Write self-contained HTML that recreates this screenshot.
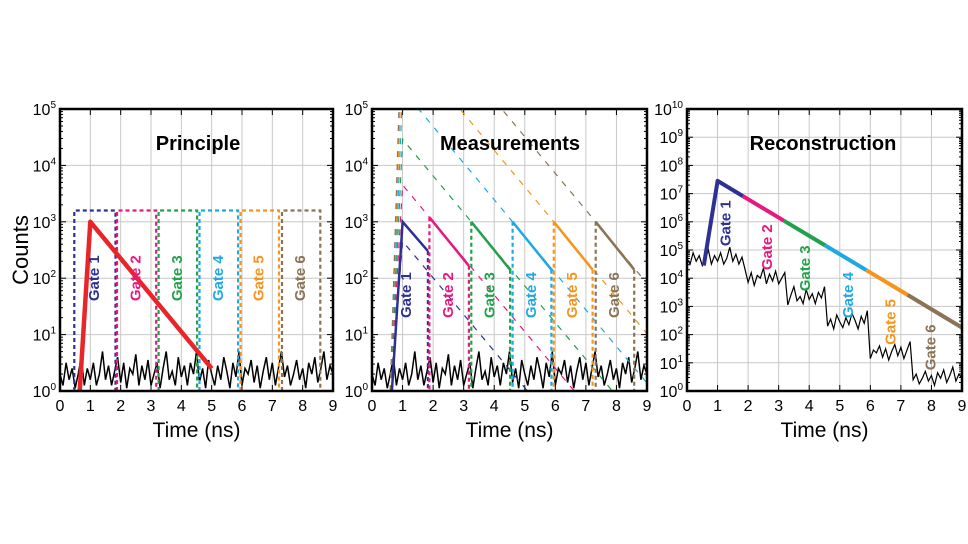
<!DOCTYPE html>
<html><head><meta charset="utf-8">
<style>
html,body{margin:0;padding:0;background:#fff;}
svg{display:block;font-family:"Liberation Sans",Arial,sans-serif;}
</style></head>
<body>
<svg id="chart" width="968" height="544" viewBox="0 0 968 544" xmlns="http://www.w3.org/2000/svg">
<rect width="968" height="544" fill="#fff"/>
<text x="22" y="250" font-size="22" text-anchor="middle" transform="rotate(-90 22 250)" dominant-baseline="middle">Counts</text>
</svg>
<script>
const NS='http://www.w3.org/2000/svg';
const svg=document.getElementById('chart');
// ---- data ----
const gateNames=['Gate 1','Gate 2','Gate 3','Gate 4','Gate 5','Gate 6'];
const gateColors=['#2e3192','#e6197e','#22a14b','#1ea9e1','#f7941d','#8b7355'];
const gateStart=[0.47,1.88,3.25,4.6,5.95,7.32];
const gateEnd=[1.83,3.17,4.52,5.87,7.22,8.58];
const gateTopLog=3.2;
const timeTicks=[0,1,2,3,4,5,6,7,8,9];
const decayRate=0.65; // decades per ns
const pulseRiseStart=0.65, pulsePeak=1.0, pulsePeakLog=3.0, pulseEndTime=5.0;
const measPeakLog=[3.0,3.08,3.0,3.0,3.0,3.0];
const measEndLog=[2.48,2.22,2.15,2.15,2.15,2.15];
const reconRiseStart=0.55, reconRiseLog=4.45, reconPeakLog=7.45, reconEndLog=2.15;
const noiseLog=[0.3,0.1,0.5,0.2,0.4,0.05,0.3,0.6,0.1,0.4,0.2,0.5,0.1,0.3,0.7,0.2,0.45,0.1,0.35,0.6,0.15,0.5,0.05,0.4,0.3,0.65,0.1,0.45,0.2,0.55,0.1,0.3,0.5,0.05,0.4,0.7,0.2,0.35,0.1,0.6,0.25,0.45,0.1,0.5,0.3,0.7,0.15,0.4,0.05,0.55,0.3,0.1,0.45,0.2,0.6,0.35,0.05,0.5,0.25,0.7,0.1,0.4,0.3,0.55,0.15,0.45,0.05,0.35,0.6,0.2,0.5,0.1,0.4,0.7,0.25,0.45,0.1,0.3,0.55,0.2,0.4,0.05,0.5,0.3,0.6,0.15,0.4,0.7,0.2,0.45,0.3];
const reconLevelLog=[4.4,3.7,3.0,2.15,1.05,0.15];
const reconLevelEnd=[1.85,3.2,4.55,5.95,7.3,9.0];
const reconLabelT=[1.3,2.65,3.9,5.3,6.7,8.0];
const reconLabelLog=[5.95,5.1,4.35,3.4,2.45,1.55];

function el(tag,attrs,parent){const e=document.createElementNS(NS,tag);for(const k in attrs)e.setAttribute(k,attrs[k]);(parent||svg).appendChild(e);return e;}

function makePanel(name,L,R,T,B,maxDec,title,titleX){
  const g=el('g',{});
  
  
  const sx=t=>L+(R-L)*t/9;
  const sy=l=>B-(B-T)*l/maxDec;
  const clipId='clip-'+name;
  const cp=el('clipPath',{id:clipId},g);
  el('rect',{x:L,y:T,width:R-L,height:B-T},cp);
  const grid=el('g',{stroke:'#c8c8c8','stroke-width':1},g);
  
  
  timeTicks.forEach(t=>{el('line',{x1:sx(t),x2:sx(t),y1:T,y2:B},grid);});
  for(let d=0;d<=maxDec;d++){el('line',{x1:L,x2:R,y1:sy(d),y2:sy(d)},grid);}
  const tk=el('g',{stroke:'#000','stroke-width':1},g);
  for(let d=0;d<maxDec;d++){for(let m=2;m<10;m++){const y=sy(d+Math.log10(m));el('line',{x1:L,x2:L+3,y1:y,y2:y},tk);el('line',{x1:R,x2:R-3,y1:y,y2:y},tk);}}
  for(let d=0;d<=maxDec;d++){el('line',{x1:L,x2:L+6,y1:sy(d),y2:sy(d)},tk);el('line',{x1:R,x2:R-6,y1:sy(d),y2:sy(d)},tk);}
  timeTicks.forEach(t=>{el('line',{x1:sx(t),x2:sx(t),y1:B,y2:B-6},tk);el('line',{x1:sx(t),x2:sx(t),y1:T,y2:T+6},tk);});
  timeTicks.forEach(t=>{const tx=el('text',{x:sx(t),y:B+20,'font-size':16,'text-anchor':'middle'},g);tx.textContent=t;
    
    });
  for(let d=0;d<=maxDec;d++){const tx=el('text',{x:L-4,y:sy(d)+6,'font-size':16,'text-anchor':'end'},g);
    
    
    const a=el('tspan',{},tx);a.textContent='10';const s=el('tspan',{dy:-7,'font-size':10},tx);s.textContent=d;}
  const xt=el('text',{x:(L+R)/2,y:B+46,'font-size':21,'text-anchor':'middle'},g);xt.textContent='Time (ns)';
  
  
  const plot=el('g',{'clip-path':'url(#'+clipId+')'},g);
  return {g,plot,sx,sy,L,R,T,B,finish:()=>{
    const tt=el('text',{x:titleX,y:T+41,'font-size':20,'font-weight':'bold','text-anchor':'middle'},g);tt.textContent=title;
    
    
    const fr=el('rect',{x:L,y:T,width:R-L,height:B-T,fill:'none',stroke:'#000','stroke-width':2.5},g);
    
    
  }};
}
function pathD(pts,P){return pts.map((p,i)=>(i?'L':'M')+P.sx(p[0]).toFixed(1)+','+P.sy(p[1]).toFixed(1)).join(' ');}
function noisePts(offsetFn){return noiseLog.map((v,i)=>[9*i/(noiseLog.length-1),offsetFn(9*i/(noiseLog.length-1))+v]);}
function gateLabel(P,i,t,l,name){
  const x=P.sx(t),y=P.sy(l);
  const tx=el('text',{x:x,y:y,'font-size':15,'font-weight':'bold',fill:gateColors[i],'text-anchor':'middle','dominant-baseline':'middle',transform:'rotate(-90 '+x+' '+y+')'},P.g);
  tx.textContent=gateNames[i];
  
  
}

// ---- Panel 1: Principle ----
const P1=makePanel('principle',60,333,109,391,5,'Principle',198);
{
  const n=el('path',{d:pathD(noisePts(()=>0),P1),fill:'none',stroke:'#000','stroke-width':1.5},P1.plot);
  
  
  gateStart.forEach((s,i)=>{
    const r=el('path',{d:pathD([[s,0],[s,gateTopLog],[gateEnd[i],gateTopLog],[gateEnd[i],0]],P1),fill:'none',stroke:gateColors[i],'stroke-width':2.2,'stroke-dasharray':'4,3'},P1.plot);
    
    
  });
  const endLog=pulsePeakLog-decayRate*(pulseEndTime-pulsePeak);
  const p=el('path',{d:pathD([[pulseRiseStart,0],[pulsePeak,pulsePeakLog],[pulseEndTime,endLog]],P1),fill:'none',stroke:'#e8262a','stroke-width':4.5,'stroke-linejoin':'round'},P1.plot);
  
  
  gateStart.forEach((s,i)=>gateLabel(P1,i,(s+gateEnd[i])/2,2.0,'principle'));
  P1.finish();
}

// ---- Panel 2: Measurements ----
const P2=makePanel('measurements',372,647,109,391,5,'Measurements',510);
{
  const n=el('path',{d:pathD(noisePts(()=>0),P2),fill:'none',stroke:'#000','stroke-width':1.5},P2.plot);
  
  
  gateStart.forEach((s,i)=>{
    const peak=measPeakLog[i]+decayRate*(s-pulsePeak);
    const ext=el('path',{d:pathD([[pulseRiseStart-0.05,0],[pulsePeak,peak],[9,peak-decayRate*(9-pulsePeak)]],P2),fill:'none',stroke:gateColors[i],'stroke-width':1.2,'stroke-dasharray':'6,7'},P2.plot);
    
    
  });
  gateStart.forEach((s,i)=>{
    const pts=i===0?[[pulseRiseStart,0],[pulsePeak,measPeakLog[0]],[gateEnd[0],measEndLog[0]]]:[[s,measPeakLog[i]],[gateEnd[i],measEndLog[i]]];
    const seg=el('path',{d:pathD(pts,P2),fill:'none',stroke:gateColors[i],'stroke-width':2.5},P2.plot);
    
    
    const v=el('path',{d:pathD([[gateEnd[i],measEndLog[i]],[gateEnd[i],0]],P2)+(i>0?' '+pathD([[s,measPeakLog[i]],[s,0]],P2):''),fill:'none',stroke:gateColors[i],'stroke-width':2.2,'stroke-dasharray':'4,3'},P2.plot);
    
    
  });
  gateStart.forEach((s,i)=>gateLabel(P2,i,(s+gateEnd[i])/2,1.7,'measurements'));
  P2.finish();
}

// ---- Panel 3: Reconstruction ----
const P3=makePanel('reconstruction',687,962,109,391,10,'Reconstruction',823);
{
  const lvl=t=>{for(let k=0;k<reconLevelEnd.length;k++){if(t<=reconLevelEnd[k])return reconLevelLog[k];}return reconLevelLog[reconLevelLog.length-1];};
  const n=el('path',{d:pathD(noisePts(lvl),P3),fill:'none',stroke:'#000','stroke-width':1.2},P3.plot);
  
  
  const logAt=t=>reconPeakLog-decayRate*(t-pulsePeak);
  gateStart.forEach((s,i)=>{
    const a=i===0?pulsePeak:gateEnd[i-1];
    const b=i===5?9:gateEnd[i];
    const pts=i===0?[[reconRiseStart,reconRiseLog],[pulsePeak,reconPeakLog],[b,logAt(b)]]:[[a,logAt(a)],[b,logAt(b)]];
    const seg=el('path',{d:pathD(pts,P3),fill:'none',stroke:gateColors[i],'stroke-width':4,'stroke-linejoin':'round'},P3.plot);
    
    
  });
  reconLabelT.forEach((t,i)=>gateLabel(P3,i,t,reconLabelLog[i],'reconstruction'));
  P3.finish();
}
</script>
</body></html>
